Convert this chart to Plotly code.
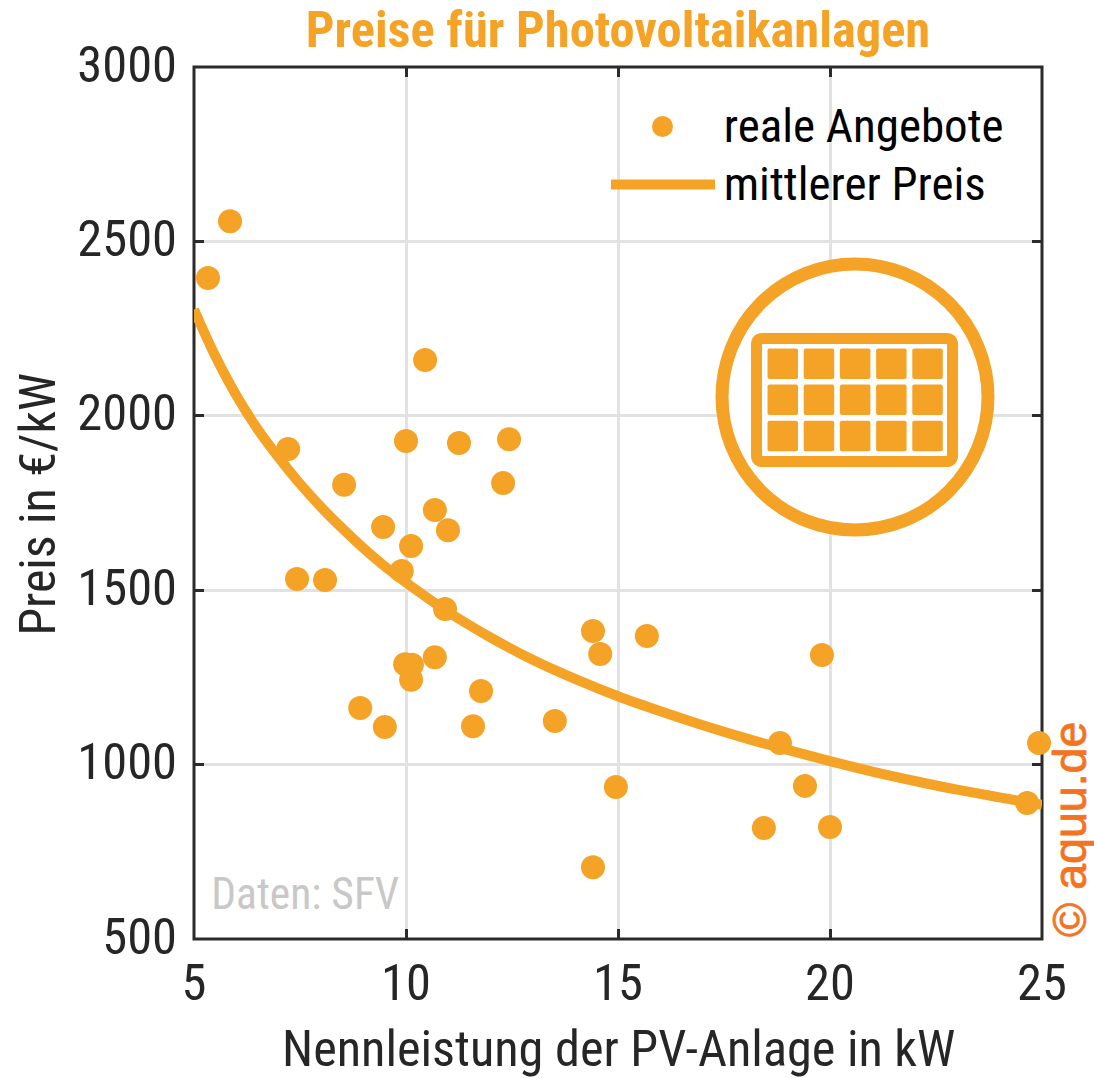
import plotly.graph_objects as go

# Data
offer_power_kw = [5.33, 5.85, 7.22, 7.43, 8.09, 8.54, 8.92, 9.46, 9.5, 9.9, 9.98, 10.14, 10.12, 10.12, 10.0,
                  10.45, 10.68, 10.68, 10.99, 10.92, 11.25, 11.58, 11.77, 12.29, 12.43, 13.51, 14.41, 14.58,
                  14.41, 14.95, 15.68, 18.44, 18.82, 19.41, 19.81, 20.0, 24.65, 24.93]
offer_price = [2395, 2558, 1905, 1532, 1529, 1802, 1162, 1681, 1108, 1555, 1288, 1286, 1243, 1627, 1928,
               2160, 1730, 1308, 1672, 1446, 1922, 1110, 1211, 1807, 1933, 1125, 1383, 1317,
               706, 936, 1369, 818, 1062, 939, 1314, 821, 890, 1062]
mean_power_kw = [5, 5.5, 6, 6.5, 7, 7.5, 8, 8.5, 9, 9.5, 10, 11, 12, 13, 14, 15, 16, 17, 18, 19, 20, 21, 22, 23, 24, 25]
mean_price = [2305, 2172, 2058, 1962, 1880, 1805, 1738, 1677, 1620, 1568, 1522, 1437, 1364, 1300, 1245, 1196,
              1153, 1113, 1076, 1042, 1010, 980, 953, 928, 906, 885]
x_ticks = [5, 10, 15, 20, 25]
y_ticks = [500, 1000, 1500, 2000, 2500, 3000]
title_text = "Preise für Photovoltaikanlagen"
x_title = "Nennleistung der PV-Anlage in kW"
y_title = "Preis in €/kW"
legend_labels = ["reale Angebote", "mittlerer Preis"]

W, H = 1094, 1078
L, R, T, B = 194, 1042, 67, 939
ORANGE = "#F4A326"
DARK = "#262626"
AXIS = "#2B2B2B"
FONT = "Roboto"


def px(x):
    return (x - L) / (R - L)


def py(y):
    return (B - y) / (B - T)


def rrect(x0, y0, x1, y1, r):
    a, b, c, d = px(x0), py(y0), px(x1), py(y1)
    rx, ry = r / (R - L), r / (B - T)
    return (f"M{a+rx},{b} L{c-rx},{b} Q{c},{b} {c},{b-ry} L{c},{d+ry} Q{c},{d} {c-rx},{d} "
            f"L{a+rx},{d} Q{a},{d} {a},{d+ry} L{a},{b-ry} Q{a},{b} {a+rx},{b} Z")


fig = go.Figure()
fig.add_trace(go.Scatter(x=mean_power_kw, y=mean_price, mode="lines", name=legend_labels[1],
                         line=dict(color=ORANGE, width=10, shape="spline", smoothing=1),
                         cliponaxis=False, showlegend=False))
fig.add_trace(go.Scatter(x=offer_power_kw, y=offer_price, mode="markers", name=legend_labels[0],
                         marker=dict(color=ORANGE, size=24), cliponaxis=False, showlegend=False))

shapes = [
    # plot frame, centred on the plot-area edge, above the grid and below the marks
    dict(type="rect", xref="paper", yref="paper", x0=0, x1=1, y0=0, y1=1, layer="between",
         line=dict(color=AXIS, width=3), fillcolor="rgba(0,0,0,0)"),
    dict(type="circle", xref="paper", yref="paper", x0=px(722), x1=px(988), y0=py(530), y1=py(264),
         line=dict(color=ORANGE, width=13), fillcolor="white"),
    dict(type="path", xref="paper", yref="paper", path=rrect(756.5, 338.5, 952.5, 461.5, 6),
         line=dict(color=ORANGE, width=11), fillcolor="white"),
    # legend keys
    dict(type="circle", xref="paper", yref="paper", x0=px(652), x1=px(673), y0=py(137), y1=py(116),
         line=dict(width=0), fillcolor=ORANGE),
    dict(type="line", xref="paper", yref="paper", x0=px(611), x1=px(715), y0=py(184.5), y1=py(184.5),
         line=dict(color=ORANGE, width=10)),
]
for i in range(3):
    for j in range(5):
        x0 = 767.5 + j * 36.2
        y0 = 348.5 + i * 36.1
        shapes.append(dict(type="path", xref="paper", yref="paper", path=rrect(x0, y0, x0 + 30.5, y0 + 30.5, 2),
                           line=dict(width=0), fillcolor=ORANGE))


def note(text, x, y, family=FONT, size=50, color=DARK, angle=0):
    return dict(text=text, xref="paper", yref="paper", x=px(x), y=py(y), xanchor="center", yanchor="middle",
                textangle=angle, showarrow=False, font=dict(family=family, size=size, color=color))


annotations = [
    note(legend_labels[0], 863, 126, size=47, color="#000000"),
    note(legend_labels[1], 854.5, 184, size=47, color="#000000"),
    note("Daten: SFV", 305.5, 894, size=43.5, color="#C8C8C8"),
    note("© aquu.de", 1070, 830, family="Liberation Sans", size=46.5, color="#F47321", angle=-90),
    note(y_title, 38, 504, angle=-90),
    note(x_title, 618, 1048, size=50.3),
    note(f"<b>{title_text}</b>", 618, 30, size=50.5, color=ORANGE),
]

axis = dict(showline=False, mirror="ticks", ticks="inside", ticklen=10,
            tickwidth=3, tickcolor=AXIS, showgrid=True, gridcolor="#E2E2E2", gridwidth=3, zeroline=False,
            tickfont=dict(family=FONT, size=50.5, color=DARK))
fig.update_layout(
    width=W, height=H, margin=dict(l=L, r=W - R, t=T, b=H - B, autoexpand=False),
    paper_bgcolor="white", plot_bgcolor="white", showlegend=False,
    xaxis=dict(range=[5, 25], tickvals=x_ticks, ticklabelstandoff=9, **axis),
    yaxis=dict(range=[500, 3000], tickvals=y_ticks, ticklabelstandoff=16, ticklabelshift=-3, **axis),
    shapes=shapes, annotations=annotations,
)
post = """
document.body.style.margin='0';
document.querySelectorAll('svg text').forEach(function(t){
  if(!(t.style.fontFamily||'').includes('Liberation')){t.style.fontStretch='75%';}
  else{t.style.stroke='#F47321';t.style.strokeWidth='0.8px';}
});
"""
fig.write_html("out.html", post_script=post, config=dict(displayModeBar=False))
